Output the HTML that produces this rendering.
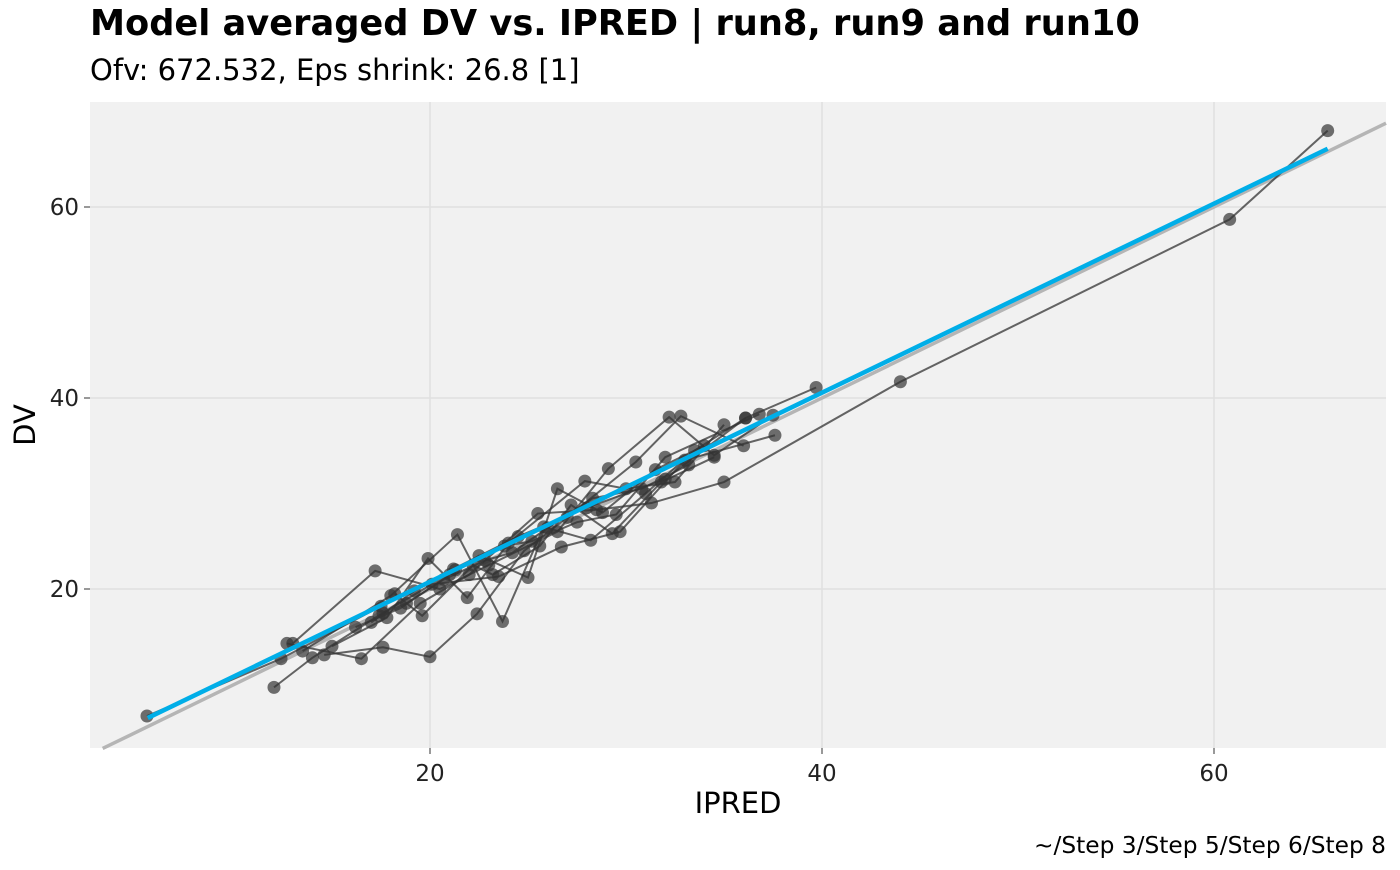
<!DOCTYPE html>
<html><head><meta charset="utf-8"><style>
body{margin:0;background:#fff;font-family:"DejaVu Sans","Liberation Sans",sans-serif;}
svg text{font-family:"DejaVu Sans","Liberation Sans",sans-serif;}
</style></head><body>
<svg id="c" width="1400" height="866">
<text x="90" y="35" font-size="35.2" font-weight="bold" fill="#000">Model averaged DV vs. IPRED | run8, run9 and run10</text>
<text x="90" y="80" font-size="29" fill="#000">Ofv: 672.532, Eps shrink: 26.8 [1]</text>
<rect x="90" y="102" width="1296" height="646" fill="#f1f1f1"/>
<g id="grid"></g><g id="marks"></g><g id="axes"></g>
<text x="738" y="813" font-size="29" text-anchor="middle">IPRED</text>
<text transform="translate(35,425) rotate(-90)" font-size="29" text-anchor="middle">DV</text>
<text x="1386" y="853" font-size="23.3" text-anchor="end">~/Step 3/Step 5/Step 6/Step 8</text>
</svg>
<script>
const xTicks=[20,40,60];
const yTicks=[20,40,60];
const subjects=[
[[5.56,6.7],[12.4,12.7],[17.5,18.2],[21.2,22.1],[24.5,25.5],[28.0,28.5],[32.0,31.5],[36.1,37.9],[39.7,41.1]],
[[12.04,9.7],[14.0,12.8],[17.6,17.5],[20.1,20.5],[23.5,21.3],[26.7,24.4],[29.7,26.0],[33.0,33.5],[37.6,36.1]],
[[12.7,14.3],[16.5,12.7],[19.5,18.5],[22.0,21.5],[25.5,27.9],[28.5,28.3],[31.3,29.0],[35.0,31.2],[44.0,41.7],[60.8,58.7],[65.8,68.0]],
[[13.0,14.3],[17.2,21.9],[20.5,20.0],[23.0,22.5],[26.5,26.0],[29.1,32.6],[32.2,38.0],[34.5,34.0],[37.5,38.2]],
[[14.6,13.1],[17.6,13.9],[20.0,12.9],[22.4,17.4],[24.8,24.0],[27.0,27.5],[30.5,33.3],[32.8,38.1],[36.0,35.0]],
[[13.5,13.5],[18.0,19.3],[21.4,25.7],[23.7,16.6],[25.8,26.5],[28.2,25.1],[31.0,30.0],[33.5,34.5],[36.1,37.9]],
[[15.0,14.0],[17.8,17.0],[19.9,23.2],[21.9,19.1],[24.0,24.8],[27.9,31.3],[30.0,30.5],[32.5,31.2],[35.0,37.2]],
[[16.2,16.0],[18.5,18.0],[21.0,21.5],[22.5,23.5],[25.0,21.2],[26.5,30.5],[28.8,28.0],[31.5,32.5],[34.0,35.0]],
[[17.0,16.5],[19.2,19.8],[21.3,22.0],[23.8,24.5],[25.2,25.0],[27.5,27.0],[29.5,27.8],[32.0,33.8],[36.8,38.3]],
[[17.4,17.2],[18.8,18.5],[20.7,21.0],[22.8,23.0],[24.2,23.8],[26.0,26.4],[28.3,29.5],[30.8,30.5],[33.2,33.0]],
[[18.2,19.5],[19.6,17.2],[22.2,22.5],[23.2,21.5],[25.6,24.5],[27.2,28.8],[29.3,25.8],[31.8,31.2],[34.5,33.8]]
];
const smoothX=[5.6,65.8];
const smoothY=[6.5,66.1];
const X=v=>430+(v-20)*19.6, Y=v=>589-(v-20)*9.55;
const NS='http://www.w3.org/2000/svg';
function mk(t,a,p){const e=document.createElementNS(NS,t);for(const k in a)e.setAttribute(k,a[k]);p.appendChild(e);return e;}
const grid=document.getElementById('grid'),marks=document.getElementById('marks'),axes=document.getElementById('axes');
xTicks.forEach(v=>{
const g=mk('line',{x1:X(v),x2:X(v),y1:102,y2:748,stroke:'#e0e0e0','stroke-width':1.5},grid);


mk('line',{x1:X(v),x2:X(v),y1:748,y2:754,stroke:'#333'},axes);
const t=mk('text',{x:X(v),y:781,'font-size':23,'text-anchor':'middle',fill:'#222'},axes);t.textContent=v;


});
yTicks.forEach(v=>{
const g=mk('line',{x1:90,x2:1386,y1:Y(v),y2:Y(v),stroke:'#e0e0e0','stroke-width':1.5},grid);


mk('line',{x1:84,x2:90,y1:Y(v),y2:Y(v),stroke:'#333'},axes);
const t=mk('text',{x:79,y:Y(v)+8,'font-size':23,'text-anchor':'end',fill:'#222'},axes);t.textContent=v;


});
const idl=mk('line',{x1:X(3.3),y1:Y(3.3),x2:1386,y2:Y(20+(1386-430)/19.6),stroke:'#b5b5b5','stroke-width':3.5},marks);


subjects.forEach(s=>{
const pl=mk('polyline',{points:s.map(p=>X(p[0])+','+Y(p[1])).join(' '),fill:'none',stroke:'#333','stroke-opacity':0.75,'stroke-width':2},marks);


s.forEach(p=>{
const c=mk('circle',{cx:X(p[0]),cy:Y(p[1]),r:6.5,fill:'#333','fill-opacity':0.7},marks);


});
});
const sm=mk('line',{x1:X(smoothX[0]),y1:Y(smoothY[0]),x2:X(smoothX[1]),y2:Y(smoothY[1]),stroke:'#00aee8','stroke-width':4.5},marks);


</script>
</body></html>
